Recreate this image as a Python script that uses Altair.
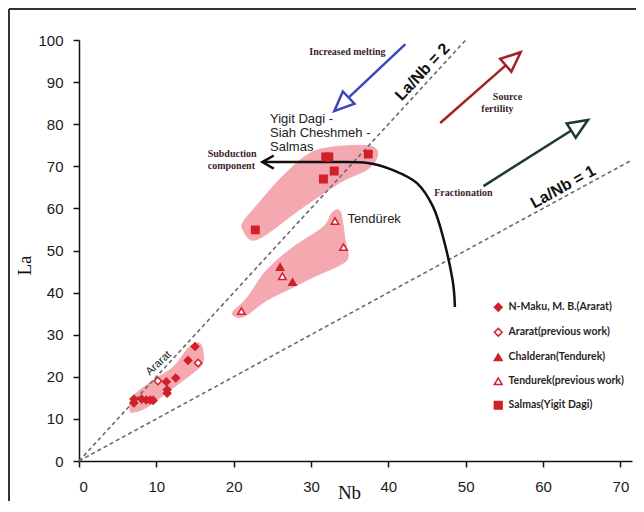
import math
import altair as alt
import pandas as pd

W, H = 553, 421
XMAX, YMAX = 71.5, 100.0
SX, SY = W / XMAX, H / YMAX

# ---------------- sample data ----------------
groups = ["N-Maku, M. B.(Ararat)", "Ararat(previous work)", "Chalderan(Tendurek)",
          "Tendurek(previous work)", "Salmas(Yigit Dagi)"]
group_shapes = ["diamond", "diamond", "triangle-up", "triangle-up", "square"]
group_fills = ["#d0202a", "#ffffff", "#d0202a", "#ffffff", "#d0202a"]

nmaku_nb = [7.1, 7.1, 8.1, 8.7, 9.2, 9.6, 11.3, 11.4, 11.4, 12.5, 14.1, 15.0]
nmaku_la = [14.7, 13.8, 14.7, 14.5, 14.5, 14.4, 18.8, 16.9, 16.1, 19.7, 23.9, 27.2]
ararat_prev_nb = [10.2, 15.4]
ararat_prev_la = [19.0, 23.3]
chalderan_nb = [26.0, 27.6]
chalderan_la = [46.1, 42.5]
tendurek_prev_nb = [33.1, 34.2, 26.3, 21.0]
tendurek_prev_la = [57.0, 50.8, 43.9, 35.6]
salmas_nb = [22.8, 31.6, 33.0, 31.9, 32.3, 37.4]
salmas_la = [54.9, 67.0, 68.9, 72.2, 72.2, 72.9]

# pink fields (outlines)
blob_salmas_nb = [21.2, 23.0, 28.6, 33.8, 37.3, 38.6, 37.6, 32.9, 29.6, 26.0, 22.8, 21.3]
blob_salmas_la = [54.9, 52.6, 59.8, 66.2, 69.3, 72.7, 74.8, 74.6, 72.8, 67.0, 60.3, 57.0]
blob_tend_nb = [19.9, 21.7, 24.3, 27.7, 31.6, 32.7, 33.8, 34.4, 34.8, 33.8, 30.3, 27.7, 24.3, 21.7, 20.4]
blob_tend_la = [35.4, 38.7, 45.4, 50.8, 55.6, 58.9, 59.1, 52.5, 48.5, 46.6, 43.7, 41.3, 38.2, 34.7, 34.2]
blob_ararat_nb = [6.6, 6.9, 9.6, 12.2, 14.1, 15.3, 15.9, 16.0, 14.7, 11.8, 8.8, 7.0]
blob_ararat_la = [12.1, 15.2, 19.2, 22.3, 26.8, 28.0, 27.1, 23.3, 20.9, 16.9, 12.8, 11.6]

# reference ratio lines
ratio_names = ["La/Nb = 2", "La/Nb = 2", "La/Nb = 1", "La/Nb = 1"]
ratio_nb = [0, 50, 0, 71.5]
ratio_la = [0, 100, 0, 71.5]

# process arrows (tail -> head)
arrow_names = ["Increased melting", "Source fertility", "Fractionation"]
arrow_colors = ["#3a48bb", "#a2222a", "#1d3b35"]
arrow_tail_nb = [42.2, 46.7, 52.3]
arrow_tail_la = [99.0, 80.3, 65.3]
arrow_head_nb = [33.0, 57.1, 65.8]
arrow_head_la = [83.1, 97.1, 81.0]

# subduction-component curve
curve_nb = [48.6, 48.3, 47.1, 45.8, 43.7, 40.6, 37.3, 32.9, 28.6, 23.7]
curve_la = [36.6, 43.0, 53.0, 60.3, 66.0, 69.1, 70.8, 71.0, 71.0, 71.0]

# annotations
serif_labels = ["Increased melting", "Source", "fertility", "Fractionation", "Subduction", "component"]
serif_nb = [34.7, 55.4, 54.1, 49.7, 19.8, 19.7]
serif_la = [97.1, 86.5, 83.6, 63.7, 72.9, 70.1]

field_labels = ["Yigit Dagi -", "Siah Cheshmeh -", "Salmas", "Tendürek"]
field_nb = [24.7, 24.7, 24.7, 34.7]
field_la = [81.2, 77.9, 74.6, 57.5]

# ---------------- frames ----------------
pts = []
for g, nbs, las in [(groups[0], nmaku_nb, nmaku_la), (groups[1], ararat_prev_nb, ararat_prev_la),
                    (groups[2], chalderan_nb, chalderan_la), (groups[3], tendurek_prev_nb, tendurek_prev_la),
                    (groups[4], salmas_nb, salmas_la)]:
    for a, b in zip(nbs, las):
        pts.append({"group": g, "Nb": a, "La": b})
df_pts = pd.DataFrame(pts)

blobs = []
for name, nbs, las in [("salmas", blob_salmas_nb, blob_salmas_la), ("tend", blob_tend_nb, blob_tend_la),
                       ("ararat", blob_ararat_nb, blob_ararat_la)]:
    for i, (a, b) in enumerate(zip(nbs, las)):
        blobs.append({"blob": name, "i": i, "Nb": a, "La": b})
df_blobs = pd.DataFrame(blobs)

df_ratio = pd.DataFrame({"line": ratio_names, "Nb": ratio_nb, "La": ratio_la})

arr_lines = []
arr_heads = []
for n, c, tx, ty, hx, hy in zip(arrow_names, arrow_colors, arrow_tail_nb, arrow_tail_la,
                                arrow_head_nb, arrow_head_la):
    arr_lines.append({"arrow": n, "color": c, "Nb": tx, "La": ty, "i": 0})
    arr_lines.append({"arrow": n, "color": c, "Nb": hx, "La": hy, "i": 1})
    ang = math.degrees(math.atan2((hx - tx) * SX, (hy - ty) * SY)) % 360
    arr_heads.append({"arrow": n, "color": c, "Nb": hx, "La": hy, "angle": ang})
df_arr_lines = pd.DataFrame(arr_lines)
df_arr_heads = pd.DataFrame(arr_heads)

df_curve = pd.DataFrame({"i": list(range(len(curve_nb))), "Nb": curve_nb, "La": curve_la})
c_ang = math.degrees(math.atan2((curve_nb[-1] - curve_nb[-2]) * SX, (curve_la[-1] - curve_la[-2]) * SY)) % 360
df_curve_head = pd.DataFrame({"Nb": [curve_nb[-1]], "La": [curve_la[-1]], "angle": [c_ang]})

df_serif = pd.DataFrame({"t": serif_labels, "Nb": serif_nb, "La": serif_la})
df_field = pd.DataFrame({"t": field_labels, "Nb": field_nb, "La": field_la})

# ---------------- scales ----------------
xs = alt.Scale(domain=[0, XMAX], nice=False, zero=True)
ys = alt.Scale(domain=[0, YMAX], nice=False)
X = alt.X("Nb:Q", scale=xs,
          axis=alt.Axis(values=list(range(0, 71, 10)), title="Nb", titleX=270, titleY=31))
Y = alt.Y("La:Q", scale=ys,
          axis=alt.Axis(values=list(range(0, 101, 10)), title="La", titleX=-55, titleY=225))
Xp = alt.X("Nb:Q", scale=xs)
Yp = alt.Y("La:Q", scale=ys)

blob_layer = alt.Chart(df_blobs).mark_line(
    interpolate="cardinal-closed", fill="#f4a9b0", stroke="#f4a9b0", strokeWidth=1, fillOpacity=1
).encode(x=X, y=Y, detail="blob:N", order="i:Q")

ratio_layer = alt.Chart(df_ratio).mark_line(
    color="#6b6b6b", strokeWidth=1.6, strokeDash=[4, 3]
).encode(x=Xp, y=Yp, detail="line:N")

curve_layer = alt.Chart(df_curve).mark_line(
    color="#111111", strokeWidth=2.5, interpolate="cardinal"
).encode(x=Xp, y=Yp, order="i:Q")

curve_head = alt.Chart(df_curve_head).mark_point(
    shape="M-0.6,1.05L0,0L0.6,1.05", size=480, filled=False, color="#111111", strokeWidth=2.5, opacity=1
).encode(x=Xp, y=Yp, angle=alt.Angle("angle:Q", scale=None))

arrow_lines = alt.Chart(df_arr_lines).mark_line(strokeWidth=2.5).encode(
    x=Xp, y=Yp, detail="arrow:N", order="i:Q", color=alt.Color("color:N", scale=None))

arrow_heads = alt.Chart(df_arr_heads).mark_point(
    shape="M0,0L0.6,1.4L-0.6,1.4Z", size=800, fill="white", filled=True, strokeWidth=2.5, opacity=1,
    fillOpacity=1
).encode(x=Xp, y=Yp, angle=alt.Angle("angle:Q", scale=None), stroke=alt.Stroke("color:N", scale=None))

legend = alt.Legend(title=None, orient="none", legendX=414, legendY=262,
                    labelFont="Lato", labelFontSize=10.5, labelFontWeight="bold",
                    labelColor="#2a1f25", rowPadding=10, symbolSize=60,
                    symbolStrokeWidth=1.5, labelOffset=5, padding=0)

points = alt.Chart(df_pts).mark_point(size=55, stroke="#d0202a", strokeWidth=1.5, opacity=1, filled=True).encode(
    x=Xp, y=Yp,
    shape=alt.Shape("group:N", scale=alt.Scale(domain=groups, range=group_shapes), legend=legend),
    fill=alt.Fill("group:N", scale=alt.Scale(domain=groups, range=group_fills), legend=legend),
)

serif_text = alt.Chart(df_serif).mark_text(
    font="Liberation Serif", fontSize=10, fontWeight="bold", color="#3d1f2a", align="center", baseline="middle"
).encode(x=Xp, y=Yp, text="t:N")

field_text = alt.Chart(df_field).mark_text(
    font="Liberation Sans", fontSize=13, color="#222222", align="left", baseline="middle"
).encode(x=Xp, y=Yp, text="t:N")

lab2 = alt.Chart(pd.DataFrame({"t": ["La/Nb = 2"], "Nb": [44.4], "La": [92.4]})).mark_text(
    font="Liberation Sans", fontSize=16, fontWeight="bold", color="#111111", angle=313,
    align="center", baseline="middle").encode(x=Xp, y=Yp, text="t:N")
lab1 = alt.Chart(pd.DataFrame({"t": ["La/Nb = 1"], "Nb": [62.6], "La": [65.1]})).mark_text(
    font="Liberation Sans", fontSize=16, fontWeight="bold", color="#111111", angle=331,
    align="center", baseline="middle").encode(x=Xp, y=Yp, text="t:N")
lab_ararat = alt.Chart(pd.DataFrame({"t": ["Ararat"], "Nb": [10.3], "La": [23.2]})).mark_text(
    font="Liberation Sans", fontSize=11, color="#222222", angle=317,
    align="center", baseline="middle").encode(x=Xp, y=Yp, text="t:N")

frame_top = alt.Chart(pd.DataFrame({"a": [0]})).mark_rule(color="#333333", strokeWidth=2).encode(
    x=alt.value(-70), x2=alt.value(565), y=alt.value(-31))
frame_left = alt.Chart(pd.DataFrame({"a": [0]})).mark_rule(color="#333333", strokeWidth=2).encode(
    x=alt.value(-70), y=alt.value(-31), y2=alt.value(461))

chart = alt.layer(
    frame_top, frame_left,
    blob_layer, ratio_layer, curve_layer, curve_head, arrow_lines, arrow_heads,
    points, serif_text, field_text, lab2, lab1, lab_ararat
).properties(
    width=W, height=H,
    autosize=alt.AutoSizeParams(type="none"),
    padding={"left": 71, "top": 32, "right": 4, "bottom": 40},
    background="white",
).configure_view(stroke=None).configure_axis(
    grid=False, domainColor="#111111", domainWidth=1.5, tickColor="#111111", tickWidth=1.5,
    tickSize=6, labelFont="Liberation Sans", labelFontSize=15, labelColor="#1a1a1a",
    titleFont="Liberation Serif", titleFontSize=19, titleFontWeight="normal", titleColor="#111111",
    titleAlign="center", titleBaseline="middle"
).configure_axisY(labelPadding=10).configure_axisX(labelPadding=12)

chart.save("out.html", embed_options={"renderer": "svg", "actions": False})
